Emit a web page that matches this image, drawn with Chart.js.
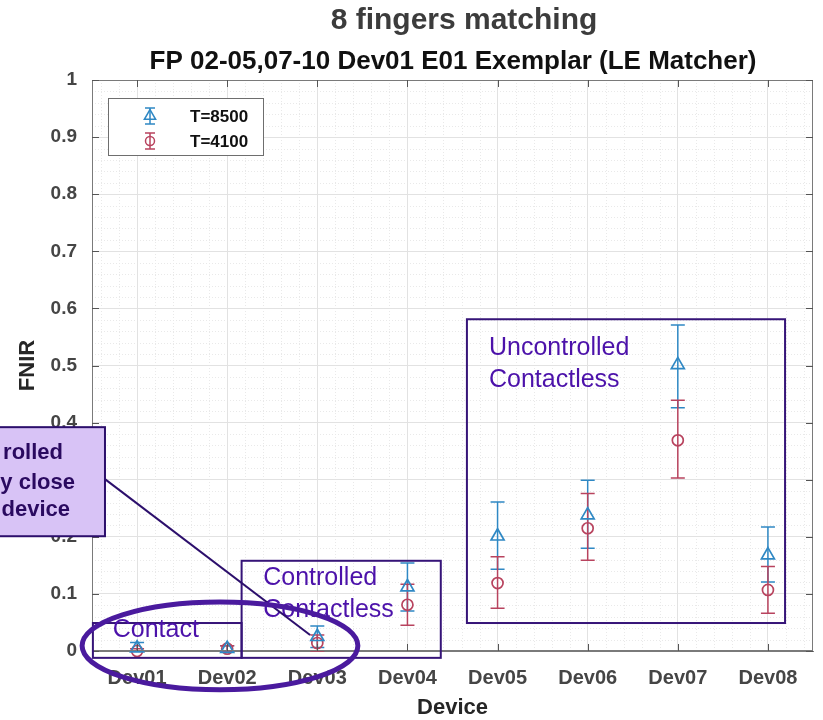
<!DOCTYPE html>
<html>
<head>
<meta charset="utf-8">
<title>8 fingers matching</title>
<script src="https://cdn.jsdelivr.net/npm/chart.js@4.4.1/dist/chart.umd.min.js"></script>
<style>
  html, body { margin: 0; padding: 0; background: #fff; }
  #wrap { width: 823px; height: 720px; }
</style>
</head>
<body>
<div id="wrap"><canvas id="chart" width="823" height="720"></canvas></div>
<script>
// values
const devices = ["Dev01", "Dev02", "Dev03", "Dev04", "Dev05", "Dev06", "Dev07", "Dev08"];
const yTicks = [0, 0.1, 0.2, 0.3, 0.4, 0.5, 0.6, 0.7, 0.8, 0.9, 1];

const fnir8500 = [0.005, 0.004, 0.025, 0.112, 0.201, 0.238, 0.501, 0.168];
const low8500  = [0.000, 0.000, 0.006, 0.070, 0.143, 0.180, 0.426, 0.121];
const high8500 = [0.015, 0.009, 0.044, 0.154, 0.261, 0.299, 0.571, 0.217];

const fnir4100 = [0.000, 0.004, 0.014, 0.081, 0.119, 0.215, 0.369, 0.107];
const low4100  = [0.000, 0.000, 0.000, 0.045, 0.075, 0.159, 0.303, 0.066];
const high4100 = [0.004, 0.009, 0.028, 0.117, 0.165, 0.276, 0.439, 0.148];

const BLUE = "#2f88c4";
const RED = "#b8435e";
const FONT = "'Liberation Sans', Arial, sans-serif";
const PURPLE_LINE = "#361478";
const PURPLE_TEXT = "#4c12aa";

function toPoints(values) {
  return values.map((v, i) => ({ x: i + 1, y: v }));
}

// overlay regions, in data units
const regions = [
  { lines: ["Contact"], x0: 0.51, x1: 2.16, y0: -0.012, y1: 0.049, tx: 0.73, ty: [0.037] },
  { lines: ["Controlled", "Contactless"], x0: 2.16, x1: 4.37, y0: -0.012, y1: 0.158, tx: 2.40, ty: [0.128, 0.072] },
  { lines: ["Uncontrolled", "Contactless"], x0: 4.66, x1: 8.19, y0: 0.049, y1: 0.581, tx: 4.905, ty: [0.531, 0.474] },
];
const ring = { cx: 1.92, cy: 0.009, rx: 1.53, ry: 0.077 };
const callout = {
  x0: -0.6, x1: 0.644, y0: 0.201, y1: 0.392,
  lines: ["rolled", "y close", "device"],
  right: [0.178, 0.311, 0.256],
  ty: [0.347, 0.294, 0.247],
  from: [0.644, 0.301], to: [2.92, 0.028],
};

const errorBars = [
  { low: low8500, high: high8500, color: BLUE },
  { low: low4100, high: high4100, color: RED },
];

const matlabLook = {
  id: "matlabLook",
  beforeDraw(chart) {
    const { ctx, chartArea: a, scales: { x, y } } = chart;
    ctx.save();
    ctx.fillStyle = "#fff";
    ctx.fillRect(0, 0, chart.width, chart.height);
    // minor grid
    ctx.strokeStyle = "#e9e9e9";
    ctx.lineWidth = 1;
    ctx.setLineDash([1, 2]);
    for (let k = 1; k < 50; k++) {
      if (k % 5 === 0) continue;
      const yy = Math.round(y.getPixelForValue(k * 0.02)) + 0.5;
      ctx.beginPath(); ctx.moveTo(a.left, yy); ctx.lineTo(a.right, yy); ctx.stroke();
    }
    for (let k = 3; k < 43; k++) {
      if (k % 5 === 0) continue;
      const xx = Math.round(x.getPixelForValue(k * 0.2)) + 0.5;
      ctx.beginPath(); ctx.moveTo(xx, a.top); ctx.lineTo(xx, a.bottom); ctx.stroke();
    }
    ctx.restore();

    // titles
    ctx.save();
    ctx.textAlign = "center";
    ctx.textBaseline = "alphabetic";
    ctx.fillStyle = "#3c3c3c";
    ctx.font = "bold 30px " + FONT;
    ctx.fillText("8 fingers matching", 464, 29);
    ctx.fillStyle = "#111";
    ctx.font = "bold 26px " + FONT;
    ctx.fillText("FP 02-05,07-10 Dev01 E01 Exemplar (LE Matcher)", 453, 69);
    // axis titles
    ctx.fillStyle = "#262626";
    ctx.font = "bold 22px " + FONT;
    ctx.textBaseline = "middle";
    ctx.fillText("Device", (a.left + a.right) / 2, 708);
    ctx.translate(28, (a.top + a.bottom) / 2);
    ctx.rotate(-Math.PI / 2);
    ctx.fillText("FNIR", 0, 0);
    ctx.restore();
  },
  beforeDatasetsDraw(chart) {
    const { ctx, scales: { x, y } } = chart;
    ctx.save();
    ctx.lineWidth = 1.5;
    errorBars.forEach((eb) => {
      ctx.strokeStyle = eb.color;
      eb.low.forEach((lo, i) => {
        const xx = x.getPixelForValue(i + 1);
        const yl = y.getPixelForValue(lo);
        const yh = y.getPixelForValue(eb.high[i]);
        ctx.beginPath();
        ctx.moveTo(xx, yl); ctx.lineTo(xx, yh);
        ctx.moveTo(xx - 7, yl); ctx.lineTo(xx + 7, yl);
        ctx.moveTo(xx - 7, yh); ctx.lineTo(xx + 7, yh);
        ctx.stroke();
      });
    });
    ctx.restore();
  },
  afterDatasetsDraw(chart) {
    const { ctx, chartArea: a, scales: { x, y } } = chart;
    ctx.save();
    // box and inward ticks
    ctx.strokeStyle = "#7a7a7a";
    ctx.lineWidth = 1;
    ctx.strokeRect(a.left + 0.5, a.top + 0.5, a.right - a.left - 1, a.bottom - a.top - 1);
    ctx.strokeStyle = "#555";
    ctx.beginPath();
    devices.forEach((d, i) => {
      const xx = Math.round(x.getPixelForValue(i + 1)) + 0.5;
      ctx.moveTo(xx, a.bottom); ctx.lineTo(xx, a.bottom - 7);
      ctx.moveTo(xx, a.top); ctx.lineTo(xx, a.top + 7);
    });
    yTicks.forEach((v) => {
      const yy = Math.round(y.getPixelForValue(v)) + 0.5;
      ctx.moveTo(a.left, yy); ctx.lineTo(a.left + 7, yy);
      ctx.moveTo(a.right, yy); ctx.lineTo(a.right - 7, yy);
    });
    ctx.stroke();

    // legend
    ctx.fillStyle = "#fff";
    ctx.fillRect(108, 98, 156, 58);
    ctx.strokeStyle = "#6e6e6e";
    ctx.strokeRect(108.5, 98.5, 155, 57);
    chart.data.datasets.forEach((ds, i) => {
      const cy = 116 + i * 25;
      const cx = 150;
      ctx.strokeStyle = ds.borderColor;
      ctx.lineWidth = 1.5;
      ctx.beginPath();
      ctx.moveTo(cx, cy - 8); ctx.lineTo(cx, cy + 8);
      ctx.moveTo(cx - 5, cy - 8); ctx.lineTo(cx + 5, cy - 8);
      ctx.moveTo(cx - 5, cy + 8); ctx.lineTo(cx + 5, cy + 8);
      ctx.stroke();
      ctx.fillStyle = "rgba(0,0,0,0)";
      Chart.helpers.drawPoint(ctx, {
        pointStyle: ds.pointStyle, radius: ds.pointRadius - 1, borderWidth: 1.5, rotation: 0,
      }, cx, cy);
      ctx.fillStyle = "#111";
      ctx.font = "bold 17px " + FONT;
      ctx.textAlign = "left";
      ctx.textBaseline = "middle";
      ctx.fillText(ds.label, 190, cy + 1);
    });
    ctx.restore();
  },
  afterDraw(chart) {
    const { ctx, scales: { x, y } } = chart;
    const px = (v) => x.getPixelForValue(v);
    const py = (v) => y.getPixelForValue(v);
    ctx.save();

    regions.forEach((r) => {
      ctx.strokeStyle = PURPLE_LINE;
      ctx.lineWidth = 2;
      ctx.strokeRect(px(r.x0), py(r.y1), px(r.x1) - px(r.x0), py(r.y0) - py(r.y1));
      ctx.fillStyle = PURPLE_TEXT;
      ctx.font = "25px " + FONT;
      ctx.textAlign = "left";
      ctx.textBaseline = "middle";
      r.lines.forEach((t, k) => ctx.fillText(t, px(r.tx), py(r.ty[k])));
    });

    // callout
    ctx.fillStyle = "#d8c3f6";
    ctx.strokeStyle = "#2c0f6c";
    ctx.lineWidth = 2;
    const cx0 = px(callout.x0), cx1 = px(callout.x1), cyt = py(callout.y1), cyb = py(callout.y0);
    ctx.fillRect(cx0, cyt, cx1 - cx0, cyb - cyt);
    ctx.strokeRect(cx0, cyt, cx1 - cx0, cyb - cyt);
    ctx.fillStyle = "#2a0a60";
    ctx.font = "bold 22px " + FONT;
    ctx.textAlign = "right";
    ctx.textBaseline = "middle";
    callout.lines.forEach((t, k) => ctx.fillText(t, px(callout.right[k]), py(callout.ty[k])));
    ctx.beginPath();
    ctx.moveTo(px(callout.from[0]), py(callout.from[1]));
    ctx.lineTo(px(callout.to[0]), py(callout.to[1]));
    ctx.stroke();

    // ring
    ctx.strokeStyle = "#4a1a9e";
    ctx.lineWidth = 5;
    ctx.beginPath();
    ctx.ellipse(px(ring.cx), py(ring.cy), px(ring.cx + ring.rx) - px(ring.cx),
      py(ring.cy) - py(ring.cy + ring.ry), 0, 0, Math.PI * 2);
    ctx.stroke();
    ctx.restore();
  },
};

const ctx = document.getElementById("chart").getContext("2d");
new Chart(ctx, {
  type: "scatter",
  data: {
    datasets: [
      {
        label: "T=8500",
        data: toPoints(fnir8500),
        borderColor: BLUE,
        backgroundColor: "rgba(0,0,0,0)",
        pointStyle: "triangle",
        pointRadius: 7.5,
        pointBorderWidth: 1.7,
        clip: false,
      },
      {
        label: "T=4100",
        data: toPoints(fnir4100),
        borderColor: RED,
        backgroundColor: "rgba(0,0,0,0)",
        pointStyle: "circle",
        pointRadius: 5.5,
        pointBorderWidth: 1.7,
        clip: false,
      },
    ],
  },
  options: {
    responsive: false,
    devicePixelRatio: 1,
    animation: false,
    layout: { padding: { top: 80, right: 10, left: 0, bottom: 0 } },
    plugins: {
      legend: { display: false },
      tooltip: { enabled: false },
    },
    scales: {
      x: {
        type: "linear",
        min: 0.5,
        max: 8.5,
        afterBuildTicks: (scale) => { scale.ticks = devices.map((d, i) => ({ value: i + 1 })); },
        afterFit: (scale) => { scale.height = 69; },
        ticks: {
          callback: (v) => devices[Math.round(v) - 1],
          color: "#454545",
          font: { family: FONT, size: 20, weight: "bold" },
          padding: 15,
          maxRotation: 0,
          autoSkip: false,
        },
        grid: { color: "#e2e2e2", drawTicks: false },
        border: { color: "#7a7a7a" },
      },
      y: {
        min: 0,
        max: 1,
        afterBuildTicks: (scale) => { scale.ticks = yTicks.map((v) => ({ value: v })); },
        afterFit: (scale) => { scale.width = 92; },
        ticks: {
          callback: (v) => String(+v.toFixed(1)),
          color: "#454545",
          font: { family: FONT, size: 19, weight: "bold" },
          padding: 15,
        },
        grid: { color: "#e2e2e2", drawTicks: false },
        border: { color: "#7a7a7a" },
      },
    },
  },
  plugins: [matlabLook],
});
</script>
</body>
</html>
